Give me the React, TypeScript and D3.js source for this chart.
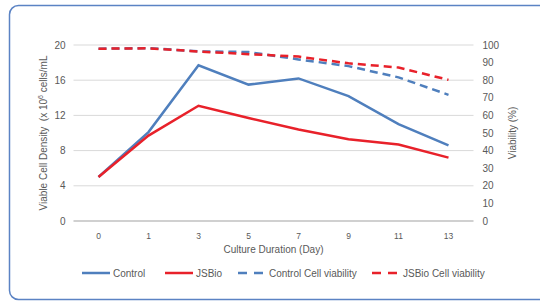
import React, { useRef, useEffect } from 'react';
import * as d3 from 'd3';

const days = ['0', '1', '3', '5', '7', '9', '11', '13'];
const controlDensity = [5.0, 10.1, 17.7, 15.5, 16.2, 14.2, 11.0, 8.6];
const jsbioDensity = [5.0, 9.7, 13.1, 11.7, 10.4, 9.3, 8.7, 7.2];
const controlViability = [97.9, 98.2, 96.4, 96.0, 91.8, 88.0, 81.6, 71.7];
const jsbioViability = [97.9, 98.1, 96.3, 94.8, 93.4, 89.6, 87.2, 80.2];
const leftTicks = [0, 4, 8, 12, 16, 20];
const rightTicks = [0, 10, 20, 30, 40, 50, 60, 70, 80, 90, 100];

const BLUE = '#4f7fbd';
const RED = '#e8212a';
const FONT = '"Liberation Sans", Arial, sans-serif';

const App = () => {
  const ref = useRef<SVGSVGElement>(null);

  useEffect(() => {
    const svg = d3.select(ref.current);
    svg.selectAll('*').remove();

    const width = 540;
    const height = 302;
    const margin = { top: 45, right: 60, bottom: 81, left: 73.5 };
    const plotW = width - margin.left - margin.right - 6.5;
    const plotH = height - margin.top - margin.bottom;

    // frame
    svg.append('rect')
      .attr('x', 9.5).attr('y', 5.5)
      .attr('width', 545).attr('height', 294)
      .attr('rx', 9)
      .attr('fill', '#fff')
      .attr('stroke', '#5b83c4')
      .attr('stroke-width', 1.5);

    const x = d3.scalePoint().domain(days).range([0, plotW]).padding(0.5);
    const yL = d3.scaleLinear().domain([0, 20]).range([plotH, 0]);
    const yR = d3.scaleLinear().domain([0, 100]).range([plotH, 0]);

    const g = svg.append('g').attr('transform', `translate(${margin.left},${margin.top})`);

    // gridlines
    g.selectAll('.grid').data(leftTicks.filter(t => t > 0)).enter().append('line')
      .attr('x1', 0).attr('x2', plotW)
      .attr('y1', d => yL(d)).attr('y2', d => yL(d))
      .attr('stroke', '#d9d9d9').attr('stroke-width', 1);

    g.append('line')
      .attr('x1', 0).attr('x2', plotW)
      .attr('y1', plotH).attr('y2', plotH)
      .attr('stroke', '#d0d0d0').attr('stroke-width', 2);

    // left ticks
    g.selectAll('.lt').data(leftTicks).enter().append('text')
      .attr('x', -8).attr('y', d => yL(d)).attr('dy', '0.35em')
      .attr('text-anchor', 'end')
      .attr('font-family', FONT).attr('font-size', 10).attr('fill', '#595959')
      .text(d => d);

    // right ticks
    g.selectAll('.rt').data(rightTicks).enter().append('text')
      .attr('x', plotW + 9).attr('y', d => yR(d)).attr('dy', '0.35em')
      .attr('text-anchor', 'start')
      .attr('font-family', FONT).attr('font-size', 10).attr('fill', '#595959')
      .text(d => d);

    // x ticks
    g.selectAll('.xt').data(days).enter().append('text')
      .attr('x', d => x(d) as number).attr('y', plotH + 18)
      .attr('text-anchor', 'middle')
      .attr('font-family', FONT).attr('font-size', 8.5).attr('fill', '#595959')
      .text(d => d);

    // axis titles
    g.append('text')
      .attr('x', plotW / 2).attr('y', plotH + 32)
      .attr('text-anchor', 'middle')
      .attr('font-family', FONT).attr('font-size', 10).attr('fill', '#595959')
      .text('Culture Duration (Day)');

    const lt = svg.append('text')
      .attr('transform', `translate(47,${margin.top + plotH / 2}) rotate(-90)`)
      .attr('text-anchor', 'middle')
      .attr('font-family', FONT).attr('font-size', 10).attr('fill', '#595959')
      .attr('xml:space', 'preserve');
    lt.append('tspan').text('Viable Cell Density  (x 10');
    lt.append('tspan').attr('font-size', 7).attr('dy', -4).text('6');
    lt.append('tspan').attr('dy', 4).text(' cells/mL');

    svg.append('text')
      .attr('transform', `translate(516,${margin.top + plotH / 2}) rotate(-90)`)
      .attr('text-anchor', 'middle')
      .attr('font-family', FONT).attr('font-size', 10).attr('fill', '#595959')
      .text('Viability (%)');

    const lineL = d3.line<number>().x((_, i) => x(days[i]) as number).y(d => yL(d));
    const lineR = d3.line<number>().x((_, i) => x(days[i]) as number).y(d => yR(d));

    const series = [
      { data: controlViability, line: lineR, color: BLUE, dash: '8,5' },
      { data: jsbioViability, line: lineR, color: RED, dash: '8,5' },
      { data: controlDensity, line: lineL, color: BLUE, dash: null },
      { data: jsbioDensity, line: lineL, color: RED, dash: null },
    ];
    series.forEach(s => {
      g.append('path')
        .datum(s.data)
        .attr('fill', 'none')
        .attr('stroke', s.color)
        .attr('stroke-width', 2.5)
        .attr('stroke-dasharray', s.dash)
        .attr('d', s.line);
    });

    // legend
    const legend = [
      { label: 'Control', color: BLUE, dash: null, x: 82 },
      { label: 'JSBio', color: RED, dash: null, x: 165 },
      { label: 'Control Cell viability', color: BLUE, dash: '9,7', x: 238 },
      { label: 'JSBio Cell viability', color: RED, dash: '9,7', x: 372 },
    ];
    const lg = svg.append('g').attr('transform', 'translate(0,273)');
    legend.forEach(l => {
      lg.append('line')
        .attr('x1', l.x).attr('x2', l.x + 28)
        .attr('y1', 0).attr('y2', 0)
        .attr('stroke', l.color).attr('stroke-width', 2.5)
        .attr('stroke-dasharray', l.dash);
      lg.append('text')
        .attr('x', l.x + 31).attr('y', 0).attr('dy', '0.35em')
        .attr('font-family', FONT).attr('font-size', 10).attr('fill', '#595959')
        .text(l.label);
    });
  }, []);

  return (
    <svg ref={ref} width={540} height={302}
      style={{ position: 'absolute', left: 0, top: 0, background: '#fff' }} />
  );
};

export default App;
